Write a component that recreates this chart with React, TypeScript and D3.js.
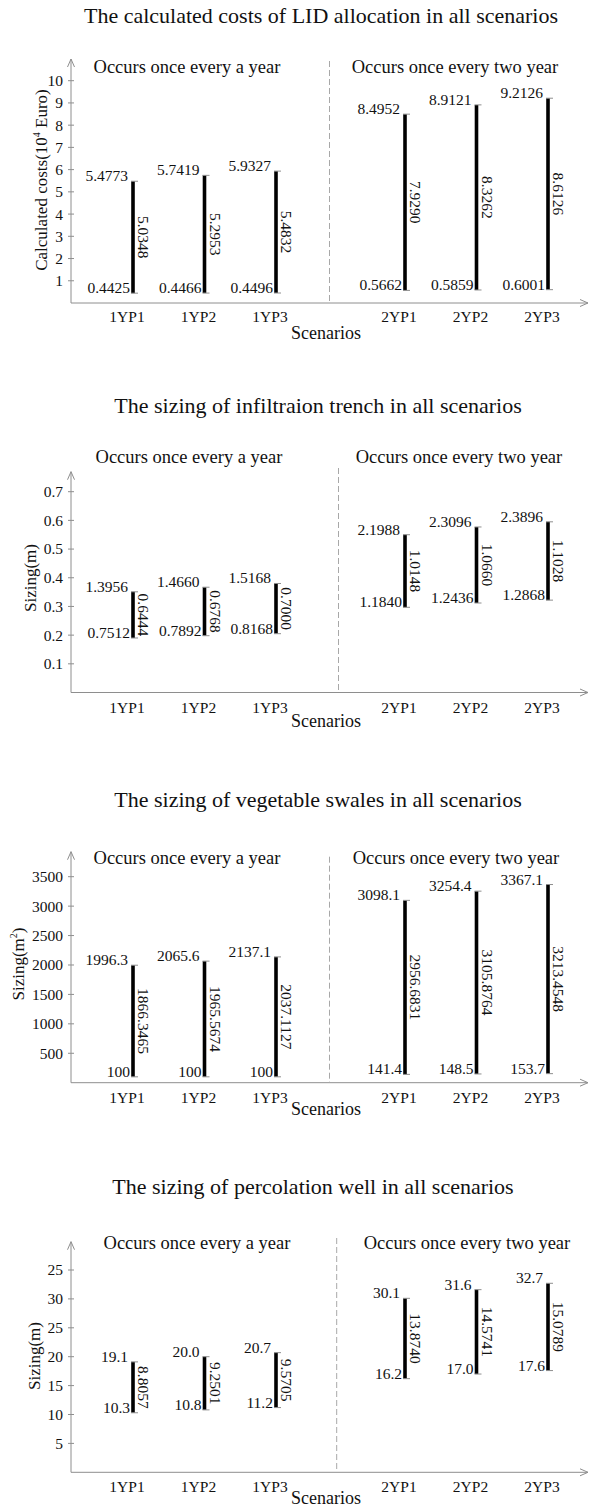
import React from 'react';
import * as d3 from 'd3';

// scenario names
const group1 = ['1YP1', '1YP2', '1YP3'];
const group2 = ['2YP1', '2YP2', '2YP3'];

// calculated costs (10^4 Euro)
const costLow = [0.4425, 0.4466, 0.4496, 0.5662, 0.5859, 0.6001];
const costHigh = [5.4773, 5.7419, 5.9327, 8.4952, 8.9121, 9.2126];
const costLowText = ['0.4425', '0.4466', '0.4496', '0.5662', '0.5859', '0.6001'];
const costHighText = ['5.4773', '5.7419', '5.9327', '8.4952', '8.9121', '9.2126'];
const costRangeText = ['5.0348', '5.2953', '5.4832', '7.9290', '8.3262', '8.6126'];
const costTicks = [1, 2, 3, 4, 5, 6, 7, 8, 9, 10];
const costTickText = ['1', '2', '3', '4', '5', '6', '7', '8', '9', '10'];

// infiltration trench (bars sit lower on the axis than their labels)
const trenchLow = [0.19, 0.198, 0.205, 0.297, 0.312, 0.322];
const trenchHigh = [0.351, 0.367, 0.38, 0.55, 0.577, 0.595];
const trenchLowText = ['0.7512', '0.7892', '0.8168', '1.1840', '1.2436', '1.2868'];
const trenchHighText = ['1.3956', '1.4660', '1.5168', '2.1988', '2.3096', '2.3896'];
const trenchRangeText = ['0.6444', '0.6768', '0.7000', '1.0148', '1.0660', '1.1028'];
const trenchTicks = [0.1, 0.2, 0.3, 0.4, 0.5, 0.6, 0.7];
const trenchTickText = ['0.1', '0.2', '0.3', '0.4', '0.5', '0.6', '0.7'];

// vegetable swales (m2)
const swaleLow = [100, 100, 100, 141.4, 148.5, 153.7];
const swaleHigh = [1996.3, 2065.6, 2137.1, 3098.1, 3254.4, 3367.1];
const swaleLowText = ['100', '100', '100', '141.4', '148.5', '153.7'];
const swaleHighText = ['1996.3', '2065.6', '2137.1', '3098.1', '3254.4', '3367.1'];
const swaleRangeText = ['1866.3465', '1965.5674', '2037.1127', '2956.6831', '3105.8764', '3213.4548'];
const swaleTicks = [500, 1000, 1500, 2000, 2500, 3000, 3500];
const swaleTickText = ['500', '1000', '1500', '2000', '2500', '3000', '3500'];

// percolation well (m)
const wellLow = [10.3, 10.8, 11.2, 16.2, 17.0, 17.6];
const wellHigh = [19.1, 20.0, 20.7, 30.1, 31.6, 32.7];
const wellLowText = ['10.3', '10.8', '11.2', '16.2', '17.0', '17.6'];
const wellHighText = ['19.1', '20.0', '20.7', '30.1', '31.6', '32.7'];
const wellRangeText = ['8.8057', '9.2501', '9.5705', '13.8740', '14.5741', '15.0789'];
const wellTicks = [5, 10, 15, 20, 25, 30, 35];
const wellTickText = ['5', '10', '15', '20', '25', '30', '25'];

const FONT = "'Liberation Serif', 'Times New Roman', serif";
const AXIS = '#8e8e8e';
const INK = '#111';

const axisX = 71;
const axisEnd = 588;

const x1 = d3.scalePoint().domain(group1).range([127, 270]);
const x2 = d3.scalePoint().domain(group2).range([399, 542]);
const catX = (i) => (i < 3 ? x1(group1[i]) : x2(group2[i - 3]));

function Panel(props) {
  const { p } = props;
  const y = d3.scaleLinear().domain([0, p.top]).range([p.zeroY, p.topY]);
  const cats = group1.concat(group2);

  return (
    <g fontFamily={FONT} fill={INK}>
      <text x={p.titleX} y={p.titleY} fontSize={22} textAnchor="middle">{p.title}</text>
      <text x={p.subX1} y={p.subY} fontSize={18.5} textAnchor="middle">Occurs once every a year</text>
      <text x={p.subX2} y={p.subY} fontSize={18.5} textAnchor="middle">Occurs once every two year</text>

      {/* y axis with arrow */}
      <line x1={axisX} x2={axisX} y1={p.zeroY} y2={p.arrowTop} stroke={AXIS} strokeWidth={1} />
      <path d={`M${axisX - 3.5},${p.arrowTop + 8} L${axisX},${p.arrowTop} L${axisX + 3.5},${p.arrowTop + 8}`}
        fill="none" stroke={AXIS} strokeWidth={1} />
      {p.ticks.map((t, i) => (
        <g key={'t' + i}>
          <line x1={axisX - 3} x2={axisX + 3} y1={y(t)} y2={y(t)} stroke={AXIS} />
          <text x={63} y={y(t)} dy="0.35em" fontSize={15.5} textAnchor="end">{p.tickText[i]}</text>
        </g>
      ))}
      <text transform={`translate(${p.labelX},${p.labelY}) rotate(-90)`} fontSize={17} textAnchor="middle">
        {p.yLabel}
      </text>

      {/* x axis with arrow */}
      <line x1={axisX} x2={axisEnd} y1={p.zeroY} y2={p.zeroY} stroke={AXIS} strokeWidth={1} />
      <path d={`M${axisEnd - 8},${p.zeroY - 3.5} L${axisEnd},${p.zeroY} L${axisEnd - 8},${p.zeroY + 3.5}`}
        fill="none" stroke={AXIS} strokeWidth={1} />
      {cats.map((c, i) => (
        <text key={'c' + i} x={catX(i)} y={p.catY} fontSize={15.5} textAnchor="middle">{c}</text>
      ))}
      <text x={326} y={p.scenY} fontSize={18} textAnchor="middle">Scenarios</text>

      <line x1={p.dashX} x2={p.dashX} y1={p.dashTop} y2={p.zeroY} stroke="#a8a8a8"
        strokeDasharray="6,3" strokeWidth={1} />

      {p.low.map((lo, i) => {
        const bx = catX(i) + 6;
        const yt = y(p.high[i]);
        const yb = y(lo);
        return (
          <g key={'b' + i}>
            <line x1={bx} x2={bx} y1={yt} y2={yb} stroke="#000" strokeWidth={3.6} />
            <line x1={bx - 2} x2={bx + 5} y1={yt} y2={yt} stroke={AXIS} strokeWidth={1} />
            <line x1={bx - 2} x2={bx + 5} y1={yb} y2={yb} stroke={AXIS} strokeWidth={1} />
            <text x={bx - 5} y={yt} fontSize={15.5} textAnchor="end">{p.highText[i]}</text>
            <text x={bx - 3} y={yb} fontSize={15.5} textAnchor="end">{p.lowText[i]}</text>
            <text transform={`translate(${bx + 5},${(yt + yb) / 2}) rotate(90)`} fontSize={15.5}
              textAnchor="middle">{p.rangeText[i]}</text>
          </g>
        );
      })}
    </g>
  );
}

const panels = [
  {
    title: 'The calculated costs of LID allocation in all scenarios',
    yLabel: <>Calculated costs(10<tspan fontSize={10} dy={-7}>4</tspan><tspan dy={7}> Euro)</tspan></>,
    low: costLow, high: costHigh, lowText: costLowText, highText: costHighText, rangeText: costRangeText,
    ticks: costTicks, tickText: costTickText, top: 10,
    titleX: 321, titleY: 23, subX1: 187, subX2: 455, subY: 73,
    arrowTop: 59, zeroY: 303, topY: 80.7, catY: 321.5, scenY: 338.5,
    dashX: 329.5, dashTop: 61, labelX: 47, labelY: 180,
  },
  {
    title: 'The sizing of infiltraion trench in all scenarios',
    yLabel: 'Sizing(m)',
    low: trenchLow, high: trenchHigh, lowText: trenchLowText, highText: trenchHighText, rangeText: trenchRangeText,
    ticks: trenchTicks, tickText: trenchTickText, top: 0.7,
    titleX: 318, titleY: 413, subX1: 189, subX2: 459, subY: 462.5,
    arrowTop: 471.7, zeroY: 692.5, topY: 491.7, catY: 713, scenY: 727,
    dashX: 338.5, dashTop: 468, labelX: 36, labelY: 578,
  },
  {
    title: 'The sizing of vegetable swales in all scenarios',
    yLabel: <>Sizing(m<tspan fontSize={10} dy={-7}>2</tspan><tspan dy={7}>)</tspan></>,
    low: swaleLow, high: swaleHigh, lowText: swaleLowText, highText: swaleHighText, rangeText: swaleRangeText,
    ticks: swaleTicks, tickText: swaleTickText, top: 3500,
    titleX: 318, titleY: 806.5, subX1: 187, subX2: 456, subY: 863.5,
    arrowTop: 851.7, zeroY: 1082.7, topY: 876.7, catY: 1103, scenY: 1115,
    dashX: 329.5, dashTop: 856.7, labelX: 24, labelY: 964,
  },
  {
    title: 'The sizing of percolation well in all scenarios',
    yLabel: 'Sizing(m)',
    low: wellLow, high: wellHigh, lowText: wellLowText, highText: wellHighText, rangeText: wellRangeText,
    ticks: wellTicks, tickText: wellTickText, top: 35,
    titleX: 313, titleY: 1194, subX1: 197, subX2: 467, subY: 1249,
    arrowTop: 1241.7, zeroY: 1472.3, topY: 1270, catY: 1491.5, scenY: 1504,
    dashX: 336.7, dashTop: 1238, labelX: 40, labelY: 1356,
  },
];

export default function App() {
  return (
    <svg width={591} height={1508} style={{ position: 'absolute', left: 0, top: 0, background: '#fff' }}>
      {panels.map((p, i) => <Panel key={i} p={p} />)}
    </svg>
  );
}
